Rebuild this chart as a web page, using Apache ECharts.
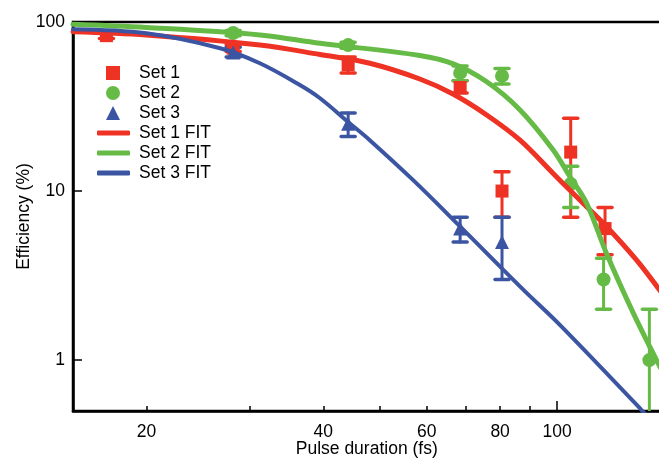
<!DOCTYPE html>
<html>
<head>
<meta charset="utf-8">
<script src="https://cdn.jsdelivr.net/npm/echarts@6/dist/echarts.min.js"></script>
<style>
  html,body{margin:0;padding:0;background:#fff;}
  #c{width:659px;height:458px;}
</style>
</head>
<body>
<div id="c"></div>
<script>
// pulse duration (fs) vs efficiency (%), log-log, three data sets with error bars + fits
const RED = '#EE3224', GREEN = '#66BB46', BLUE = '#3B55A3';

const xTickLabels = [20, 40, 60, 80, 100];
const xTicks = [20, 30, 40, 50, 60, 70, 80, 90, 100];
const yTicks = [1, 10, 100];

// Set 1
const s1X  = [17.1, 28.1, 44.1, 68.4, 80.6, 105.5, 120.7];
const s1Y  = [83, 70, 56, 41, 10, 17, 6];
const s1Lo = [80, 67, 50, 38, 7, 7, 4.2];
const s1Hi = [86, 73, 62, 45, 13, 27, 8];
// Set 2
const s2X  = [28.1, 44.1, 68.4, 80.6, 105.5, 120, 143.6];
const s2Y  = [86, 73, 50, 48, 11, 3, 1];
const s2Lo = [83, 70, 45, 43, 8, 2, 0.3];
const s2Hi = [89, 76, 55, 53, 14, 4, 2];
// Set 3
const s3X  = [28.1, 44.1, 68.4, 80.6];
const s3Y  = [66, 25, 6, 5];
const s3Lo = [62, 21, 5, 3];
const s3Hi = [71, 29, 7, 7];

// fit curves
const fit1X = [15, 20, 31.2, 39.5, 48, 58.4, 66.5, 75.9, 86.5, 98.5, 105.2, 112.3, 121.5, 136.6, 150];
const fit1Y = [87.6, 83.8, 73.1, 64.2, 57, 46, 37.5, 28.2, 20, 12.7, 10.1, 8.07, 6.15, 3.9, 2.55];
const fit2X = [15, 20, 31.2, 39.5, 58.4, 66.6, 75.9, 86.5, 98.5, 105.2, 112.3, 121.5, 134.9, 150];
const fit2Y = [96.9, 92.8, 83.8, 74.8, 63.4, 56.5, 44.3, 30.2, 17.5, 12.15, 8.46, 4.24, 1.89, 0.9];
const fit3X = [15, 20, 26.7, 31.2, 36.5, 39.5, 44.4, 48, 56.9, 68.3, 87.5, 101.2, 139, 150];
const fit3Y = [90.5, 85.7, 69.9, 57, 42.4, 35.4, 25.1, 20, 11.6, 6.2, 2.62, 1.61, 0.51, 0.38];

const zip = (a, b) => a.map((v, i) => [v, b[i]]);
const FONT = 'Liberation Sans, Arial, sans-serif';
const FS = 17.5;

function errBars(xs, lo, hi, color) {
  return {
    type: 'custom', silent: true, clip: true, z: 2,
    data: xs.map((x, i) => [x, lo[i], hi[i]]),
    encode: {x: 0, y: [1, 2]},
    renderItem(params, api) {
      const x = api.value(0);
      const a = api.coord([x, api.value(1)]), b = api.coord([x, api.value(2)]);
      const w = 7, st = {stroke: color, lineWidth: 3, lineCap: 'round'};
      return {type: 'group', children: [
        {type: 'line', shape: {x1: a[0], y1: a[1], x2: b[0], y2: b[1]}, style: st},
        {type: 'line', shape: {x1: a[0]-w, y1: a[1], x2: a[0]+w, y2: a[1]}, style: {...st, lineWidth: 3.5}},
        {type: 'line', shape: {x1: b[0]-w, y1: b[1], x2: b[0]+w, y2: b[1]}, style: {...st, lineWidth: 3.5}}
      ]};
    }
  };
}
function pts(name, xs, ys, color, symbol, size) {
  return {name, type: 'scatter', data: zip(xs, ys), symbol, symbolSize: size, z: 3,
    itemStyle: {color, opacity: 1}};
}
function fit(name, xs, ys, color, width) {
  return {name, type: 'line', data: zip(xs, ys), smooth: 0.35, showSymbol: false, symbol: 'none',
    clip: true, z: 4, lineStyle: {color, width, cap: 'round'}, itemStyle: {color}};
}
const legText = pad => ({fontSize: FS, fontFamily: FONT, color: '#000', padding: [0, 0, 0, pad]});

const chart = echarts.init(document.getElementById('c'), null, {renderer: 'canvas'});
chart.setOption({
  animation: false,
  textStyle: {fontFamily: FONT, color: '#000'},
  grid: {left: 73, top: 22, width: 587.5, height: 389, outerBoundsMode: 'none',
    show: true, borderColor: '#000', borderWidth: 2.5},
  legend: [{
    orient: 'vertical', left: 106, top: 64, padding: 0, itemWidth: 14, itemHeight: 14, itemGap: 2,
    textStyle: legText(14),
    data: [{name: 'Set 1', icon: 'rect'}, {name: 'Set 2', icon: 'circle'}, {name: 'Set 3', icon: 'triangle'}]
  }, {
    orient: 'vertical', left: 97, top: 124, padding: 0, itemWidth: 33, itemHeight: 5, itemGap: 2,
    textStyle: legText(4),
    data: [{name: 'Set 1 FIT', icon: 'roundRect'}, {name: 'Set 2 FIT', icon: 'roundRect'}, {name: 'Set 3 FIT', icon: 'roundRect'}]
  }],
  xAxis: [{
    type: 'log', min: 15, max: 150,
    name: 'Pulse duration (fs)', nameLocation: 'middle', nameGap: 29, nameMoveOverlap: false,
    nameTextStyle: {fontSize: FS, fontFamily: FONT, color: '#000'},
    axisLine: {lineStyle: {color: '#000', width: 2.5}},
    axisTick: {inside: true, length: 5, customValues: xTicks, lineStyle: {color: '#000', width: 1.5}},
    axisLabel: {customValues: xTickLabels, fontSize: FS, color: '#000', margin: 12, fontFamily: FONT},
    minorTick: {show: false}, splitLine: {show: false}
  }, {
    type: 'log', min: 15, max: 150, position: 'bottom',
    axisLine: {show: false}, axisLabel: {show: false}, splitLine: {show: false},
    axisTick: {inside: true, length: 10, customValues: [100], lineStyle: {color: '#000', width: 1.5}}
  }],
  yAxis: {
    type: 'log', min: 0.5, max: 100,
    name: 'Efficiency (%)', nameLocation: 'middle', nameGap: 40, nameMoveOverlap: false,
    nameTextStyle: {fontSize: FS, fontFamily: FONT, color: '#000'},
    axisLine: {lineStyle: {color: '#000', width: 2.5}},
    axisTick: {inside: true, length: 9, customValues: yTicks, lineStyle: {color: '#000', width: 1.5}},
    axisLabel: {customValues: yTicks, fontSize: FS, color: '#000', margin: 8, fontFamily: FONT},
    splitLine: {show: false}
  },
  series: [
    errBars(s1X, s1Lo, s1Hi, RED),
    errBars(s3X, s3Lo, s3Hi, BLUE),
    errBars(s2X, s2Lo, s2Hi, GREEN),
    pts('Set 1', s1X, s1Y, RED, 'rect', 13),
    pts('Set 3', s3X, s3Y, BLUE, 'triangle', 14),
    pts('Set 2', s2X, s2Y, GREEN, 'circle', 14),
    fit('Set 1 FIT', fit1X, fit1Y, RED, 5),
    fit('Set 2 FIT', fit2X, fit2Y, GREEN, 5),
    fit('Set 3 FIT', fit3X, fit3Y, BLUE, 4)
  ]
});
</script>
</body>
</html>
